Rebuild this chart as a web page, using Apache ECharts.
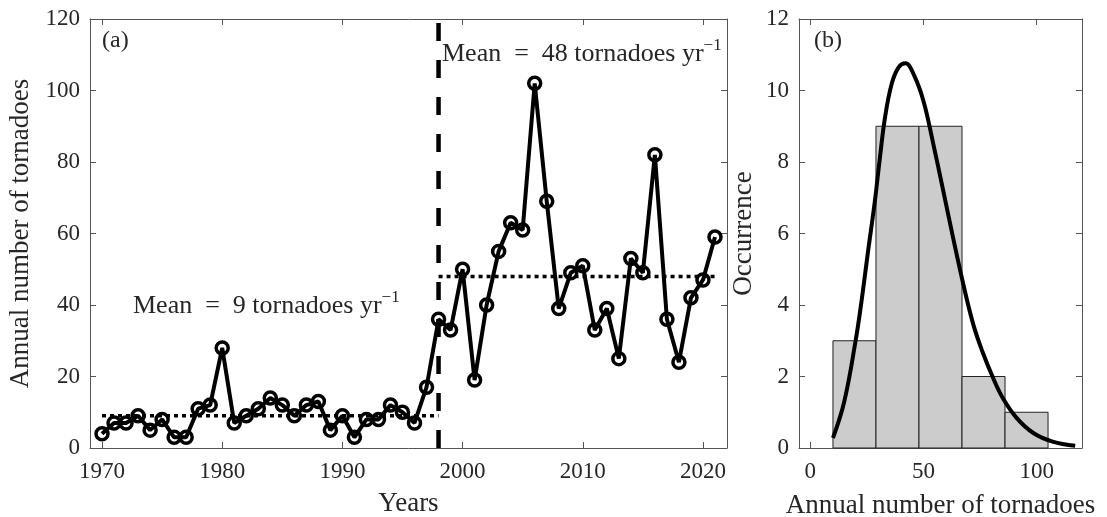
<!DOCTYPE html>
<html>
<head>
<meta charset="utf-8">
<script src="https://cdn.jsdelivr.net/npm/echarts@6/dist/echarts.min.js"></script>
<style>
  html, body { margin: 0; padding: 0; background: #fff; }
  #chart { width: 1107px; height: 517px; }
</style>
</head>
<body>
<div id="chart"></div>
<script>
// ---- Data ----
const years = [1970,1971,1972,1973,1974,1975,1976,1977,1978,1979,
               1980,1981,1982,1983,1984,1985,1986,1987,1988,1989,
               1990,1991,1992,1993,1994,1995,1996,1997,1998,1999,
               2000,2001,2002,2003,2004,2005,2006,2007,2008,2009,
               2010,2011,2012,2013,2014,2015,2016,2017,2018,2019,
               2020,2021];
const tornadoes = [4,7,7,9,5,8,3,3,11,12,
                   28,7,9,11,14,12,9,12,13,5,
                   9,3,8,8,12,10,7,17,36,33,
                   50,19,40,55,63,61,102,69,39,49,
                   51,33,39,25,53,49,82,36,24,42,
                   47,59];
const changeYear = 1998;
const meanBefore = 9;
const meanAfter = 48;
const firstYear = 1970;
const lastYear = 2021;

const yearTicks = [1970, 1980, 1990, 2000, 2010, 2020];
const countTicks = [0, 20, 40, 60, 80, 100, 120];

const binEdges = [10, 29, 48, 67, 86, 105];
const binCounts = [3, 9, 9, 2, 1];
const histXTicks = [0, 50, 100];
const histYTicks = [0, 2, 4, 6, 8, 10, 12];

const fitX = [10, 15, 20, 22.6, 25.5, 28.5, 30.7, 33, 36, 39, 42, 46, 50, 54, 58.7, 63, 67.5, 72, 76, 80.8, 85, 91, 98.5, 107, 117];
const fitY = [0.28, 1.3, 3.0, 4.1, 5.5, 6.9, 8.1, 9.25, 10.2, 10.65, 10.76, 10.4, 9.7, 8.6, 7.2, 5.9, 4.6, 3.45, 2.7, 1.95, 1.4, 0.85, 0.42, 0.18, 0.06];

// ---- Build ----
const FONT = 'Liberation Serif';
const axisColor = '#555';
const textColor = '#262626';
const TICK_FS = 23;
const NAME_FS = 27;
const ANNOT_FS = 26;

const lineData = years.map((y, i) => [y, tornadoes[i]]);
const histData = binCounts.map((c, i) => [binEdges[i], binEdges[i + 1], c]);
const fitData = fitX.map((x, i) => [x, fitY[i]]);
const plain = v => String(v);

function frameAxis(base, extra) {
  return Object.assign({
    axisLine: { show: true, onZero: false, lineStyle: { color: axisColor, width: 1 } },
    axisTick: { show: true, inside: true, length: 6, lineStyle: { color: axisColor, width: 1 } },
    axisLabel: { show: true, color: textColor, fontFamily: FONT, fontSize: TICK_FS, formatter: plain },
    splitLine: { show: false }
  }, base, extra);
}

const chart = echarts.init(document.getElementById('chart'), null, { renderer: 'canvas' });

const nameStyle = { fontFamily: FONT, fontSize: NAME_FS, color: textColor };
const annotRich = {
  a: { fontFamily: FONT, fontSize: ANNOT_FS, fill: textColor, lineHeight: 30, verticalAlign: 'bottom' },
  s: { fontFamily: FONT, fontSize: 17, fill: textColor, lineHeight: 30, verticalAlign: 'top' }
};

const option = {
  animation: false,
  backgroundColor: '#fff',
  grid: [
    { left: 90, top: 19, right: 380, bottom: 69, containLabel: false, outerBoundsMode: 'none' },
    { left: 799, top: 19, right: 25, bottom: 69, containLabel: false, outerBoundsMode: 'none' }
  ],
  xAxis: [
    frameAxis({
      type: 'value', gridIndex: 0, position: 'bottom', min: 1969, max: 2022,
      name: 'Years', nameLocation: 'middle', nameGap: 42, nameTextStyle: nameStyle
    }, {
      axisTick: { show: true, inside: true, length: 6, customValues: yearTicks, lineStyle: { color: axisColor } },
      axisLabel: { show: true, color: textColor, fontFamily: FONT, fontSize: TICK_FS, margin: 12, customValues: yearTicks, formatter: plain }
    }),
    frameAxis({ type: 'value', gridIndex: 0, position: 'top', min: 1969, max: 2022 }, {
      axisTick: { show: true, inside: true, length: 6, customValues: yearTicks, lineStyle: { color: axisColor } },
      axisLabel: { show: false }
    }),
    frameAxis({
      type: 'value', gridIndex: 1, position: 'bottom', min: -5, max: 120,
      name: 'Annual number of tornadoes', nameLocation: 'middle', nameGap: 44, nameTextStyle: nameStyle
    }, {
      axisTick: { show: true, inside: true, length: 6, customValues: histXTicks, lineStyle: { color: axisColor } },
      axisLabel: { show: true, color: textColor, fontFamily: FONT, fontSize: TICK_FS, margin: 12, customValues: histXTicks, formatter: plain }
    }),
    frameAxis({ type: 'value', gridIndex: 1, position: 'top', min: -5, max: 120 }, {
      axisTick: { show: true, inside: true, length: 6, customValues: histXTicks, lineStyle: { color: axisColor } },
      axisLabel: { show: false }
    })
  ],
  yAxis: [
    frameAxis({
      type: 'value', gridIndex: 0, position: 'left', min: 0, max: 120, interval: 20,
      name: 'Annual number of tornadoes', nameLocation: 'middle', nameGap: 53, nameTextStyle: nameStyle
    }, {
      axisLabel: { show: true, color: textColor, fontFamily: FONT, fontSize: TICK_FS, margin: 10, formatter: plain }
    }),
    frameAxis({ type: 'value', gridIndex: 0, position: 'right', min: 0, max: 120, interval: 20 }, {
      axisLabel: { show: false }
    }),
    frameAxis({
      type: 'value', gridIndex: 1, position: 'left', min: 0, max: 12, interval: 2,
      name: 'Occurrence', nameLocation: 'middle', nameGap: 42, nameTextStyle: nameStyle
    }, {
      axisLabel: { show: true, color: textColor, fontFamily: FONT, fontSize: TICK_FS, margin: 10, formatter: plain }
    }),
    frameAxis({ type: 'value', gridIndex: 1, position: 'right', min: 0, max: 12, interval: 2 }, {
      axisLabel: { show: false }
    })
  ],
  series: [
    {
      type: 'line', xAxisIndex: 0, yAxisIndex: 0, z: 3,
      data: [[firstYear, meanBefore], [changeYear, meanBefore]],
      symbol: 'none', lineStyle: { color: '#000', width: 3.5, type: [4, 4] }
    },
    {
      type: 'line', xAxisIndex: 0, yAxisIndex: 0, z: 3,
      data: [[changeYear, meanAfter], [lastYear, meanAfter]],
      symbol: 'none', lineStyle: { color: '#000', width: 3.5, type: [4, 4] }
    },
    {
      type: 'line', xAxisIndex: 0, yAxisIndex: 0, z: 4,
      data: [[changeYear, 0], [changeYear, 120]],
      symbol: 'none', lineStyle: { color: '#000', width: 4.5, type: [18, 19] }
    },
    {
      type: 'line', xAxisIndex: 0, yAxisIndex: 0, z: 5,
      data: lineData,
      symbol: 'circle', symbolSize: 12,
      lineStyle: { color: '#000', width: 4 },
      itemStyle: { color: 'rgba(255,255,255,0)', borderColor: '#000', borderWidth: 3.5 }
    },
    {
      type: 'custom', xAxisIndex: 2, yAxisIndex: 2, z: 2,
      data: histData,
      renderItem: function (params, api) {
        const p0 = api.coord([api.value(0), api.value(2)]);
        const p1 = api.coord([api.value(1), 0]);
        return {
          type: 'rect',
          shape: { x: p0[0], y: p0[1], width: p1[0] - p0[0], height: p1[1] - p0[1] },
          style: { fill: '#cccccc', stroke: '#222', lineWidth: 1 }
        };
      }
    },
    {
      type: 'line', xAxisIndex: 2, yAxisIndex: 2, z: 5,
      data: fitData, smooth: 0.4, symbol: 'none',
      lineStyle: { color: '#000', width: 4 }
    }
  ],
  graphic: [
    { type: 'text', left: 102, top: 29, z: 10,
      style: { text: '(a)', fontFamily: FONT, fontSize: 24, fill: textColor } },
    { type: 'text', left: 814, top: 29, z: 10,
      style: { text: '(b)', fontFamily: FONT, fontSize: 24, fill: textColor } },
    { type: 'text', left: 133, top: 289, z: 10,
      style: { text: '{a|Mean  =  9 tornadoes yr}{s|−1}', rich: annotRich } },
    { type: 'text', left: 442, top: 37, z: 10,
      style: { text: '{a|Mean  =  48 tornadoes yr}{s|−1}', rich: annotRich } }
  ]
};

chart.setOption(option);
</script>
</body>
</html>
